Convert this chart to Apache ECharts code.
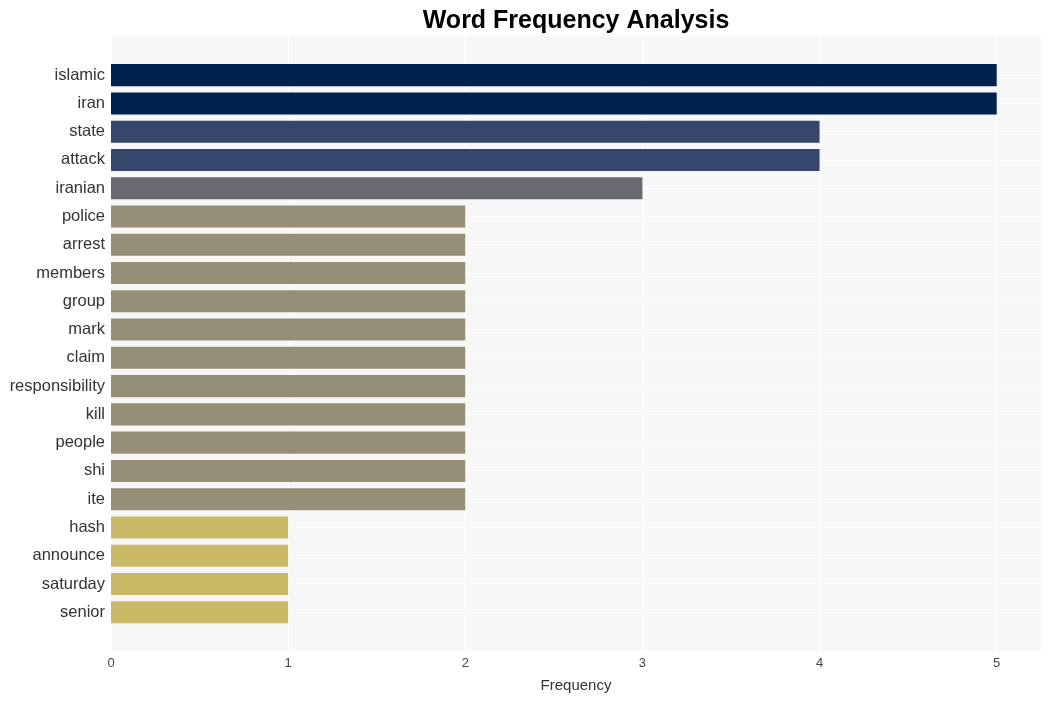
<!DOCTYPE html>
<html><head><meta charset="utf-8">
<script src="https://cdn.jsdelivr.net/npm/echarts@6/dist/echarts.min.js"></script>
<style>html,body{margin:0;padding:0;background:#fff}#c{width:1051px;height:701px}</style>
</head><body><div id="c"></div>
<script>
const categories = ["islamic","iran","state","attack","iranian","police","arrest","members","group","mark","claim","responsibility","kill","people","shi","ite","hash","announce","saturday","senior"];
const values = [5,5,4,4,3,2,2,2,2,2,2,2,2,2,2,2,1,1,1,1];
const xTicks = [0,1,2,3,4,5];
const colorByValue = {5:"#00224e",4:"#35456c",3:"#666970",2:"#958f78",1:"#c9b866"};

const L = 111, R = 10;
const FONT = "Liberation Sans, Arial, sans-serif";
const chart = echarts.init(document.getElementById('c'));
chart.setOption({
  animation:false,
  title:{text:"Word Frequency Analysis",left:571,top:4,textAlign:'center',
    textStyle:{fontFamily:FONT,fontSize:25,fontWeight:'bold',color:'#000'}},
  grid:[
    {left:L,right:R,top:36,bottom:50,show:true,backgroundColor:'#f7f7f7',borderWidth:0},
    {left:L,right:R,top:61,bottom:74.6,containLabel:false},
    {left:L,right:R,top:75,bottom:89}
  ],
  xAxis:[
    {gridIndex:0,type:'value',min:0,max:5.25,interval:1,
      axisLine:{show:false},axisTick:{show:false},
      splitLine:{show:true,lineStyle:{color:'#ffffff',width:1}},
      axisLabel:{color:'#444',fontSize:13,fontFamily:FONT,margin:6,
        formatter:v=>xTicks.includes(v)?String(v):''},
      name:'Frequency',nameLocation:'middle',nameGap:27,
      nameTextStyle:{color:'#333',fontSize:15,fontFamily:FONT}},
    {gridIndex:1,type:'value',min:0,max:5.25,show:false},
    {gridIndex:2,type:'value',min:0,max:5.25,show:false}
  ],
  yAxis:[
    {gridIndex:0,type:'value',show:false},
    {gridIndex:1,type:'category',data:categories,inverse:true,
      axisLine:{show:false},axisTick:{show:false},splitLine:{show:false},
      axisLabel:{color:'#333',fontSize:16.5,fontFamily:FONT,margin:6,padding:[3,0,0,0]}},
    {gridIndex:2,type:'value',min:0,max:categories.length-1,interval:1,inverse:true,
      axisLine:{show:false},axisTick:{show:false},axisLabel:{show:false},
      splitLine:{show:true,lineStyle:{color:'#ffffff',width:1}}}
  ],
  series:[{
    type:'bar',xAxisIndex:1,yAxisIndex:1,barCategoryGap:'22%',
    data:values.map(v=>({value:v,itemStyle:{color:colorByValue[v]}})),
    z:3
  }]
});
</script></body></html>
